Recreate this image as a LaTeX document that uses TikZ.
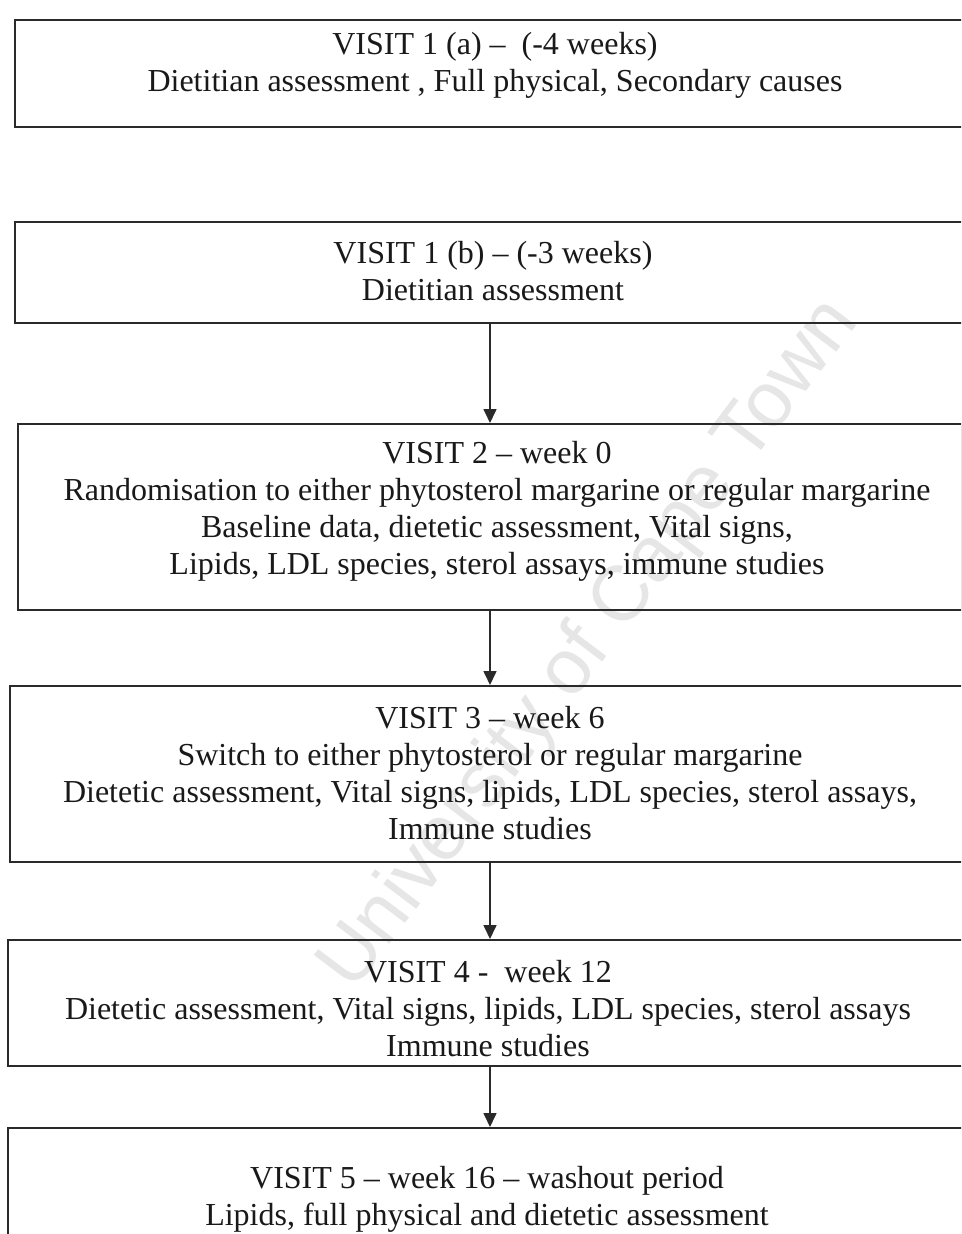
\documentclass[tikz,border=0pt]{standalone}
\usepackage{fontspec}
\setmainfont{Liberation Serif}
\newfontfamily\wmfont{Liberation Sans}
\usetikzlibrary{arrows.meta}
\definecolor{linegray}{HTML}{2A2A2A}
\definecolor{wmgray}{HTML}{E6E6E6}
\tikzset{
  visitbox/.style={draw=linegray, line width=2pt, rectangle, inner sep=0pt},
  visittext/.style={align=center, inner sep=0pt, font=\fontsize{32}{37}\selectfont, text=black!90},
  flow/.style={draw=linegray, line width=1.6pt, -{Triangle[length=14pt,width=13pt]}},
}
\begin{document}
\begin{tikzpicture}[x=1pt,y=-1pt]
\useasboundingbox (0,0) rectangle (961,1234);
\clip (0,0) rectangle (961,1234);
\fill[white] (0,0) rectangle (961,1234);
% watermark
\node[rotate=53, text=wmgray, font=\wmfont\fontsize{78}{80}\selectfont, inner sep=0pt] (wm) at (590,645) {University of Cape Town};
% boxes
\node[visitbox, minimum width=950pt, minimum height=107pt] (b1) at (490,73.5) {};
\node[visitbox, minimum width=950pt, minimum height=101pt] (b2) at (490,272.5) {};
\node[visitbox, minimum width=944pt, minimum height=186pt] (b3) at (490,517) {};
\node[visitbox, minimum width=960pt, minimum height=176pt] (b4) at (490,774) {};
\node[visitbox, minimum width=964pt, minimum height=126pt] (b5) at (490,1003) {};
\node[visitbox, minimum width=964pt, minimum height=140pt] (b6) at (490,1198) {};
% texts
\node[visittext] (t1) at (495,65) {VISIT 1 (a) -- \ (-4 weeks)\\Dietitian assessment , Full physical, Secondary causes};
\node[visittext] (t2) at (493,271) {VISIT 1 (b) -- (-3 weeks)\\Dietitian assessment};
\node[visittext] (t3) at (497,511) {VISIT 2 -- week 0\\Randomisation to either phytosterol margarine or regular margarine\\Baseline data, dietetic assessment, Vital signs,\\Lipids, LDL species, sterol assays, immune studies};
\node[visittext] (t4) at (490,773.5) {VISIT 3 -- week 6\\Switch to either phytosterol or regular margarine\\Dietetic assessment, Vital signs, lipids, LDL species, sterol assays,\\Immune studies};
\node[visittext] (t5) at (488,1008.5) {VISIT 4 - \ week 12\\Dietetic assessment, Vital signs, lipids, LDL species, sterol assays\\Immune studies};
\node[visittext] (t6) at (487,1199) {VISIT 5 -- week 16 -- washout period\\Lipids, full physical and dietetic assessment};
% connectors
\draw[flow] (b2.south) -- (b3.north);
\draw[flow] (b3.south) -- (b4.north);
\draw[flow] (b4.south) -- (b5.north);
\draw[flow] (b5.south) -- (b6.north);
\end{tikzpicture}
\end{document}
